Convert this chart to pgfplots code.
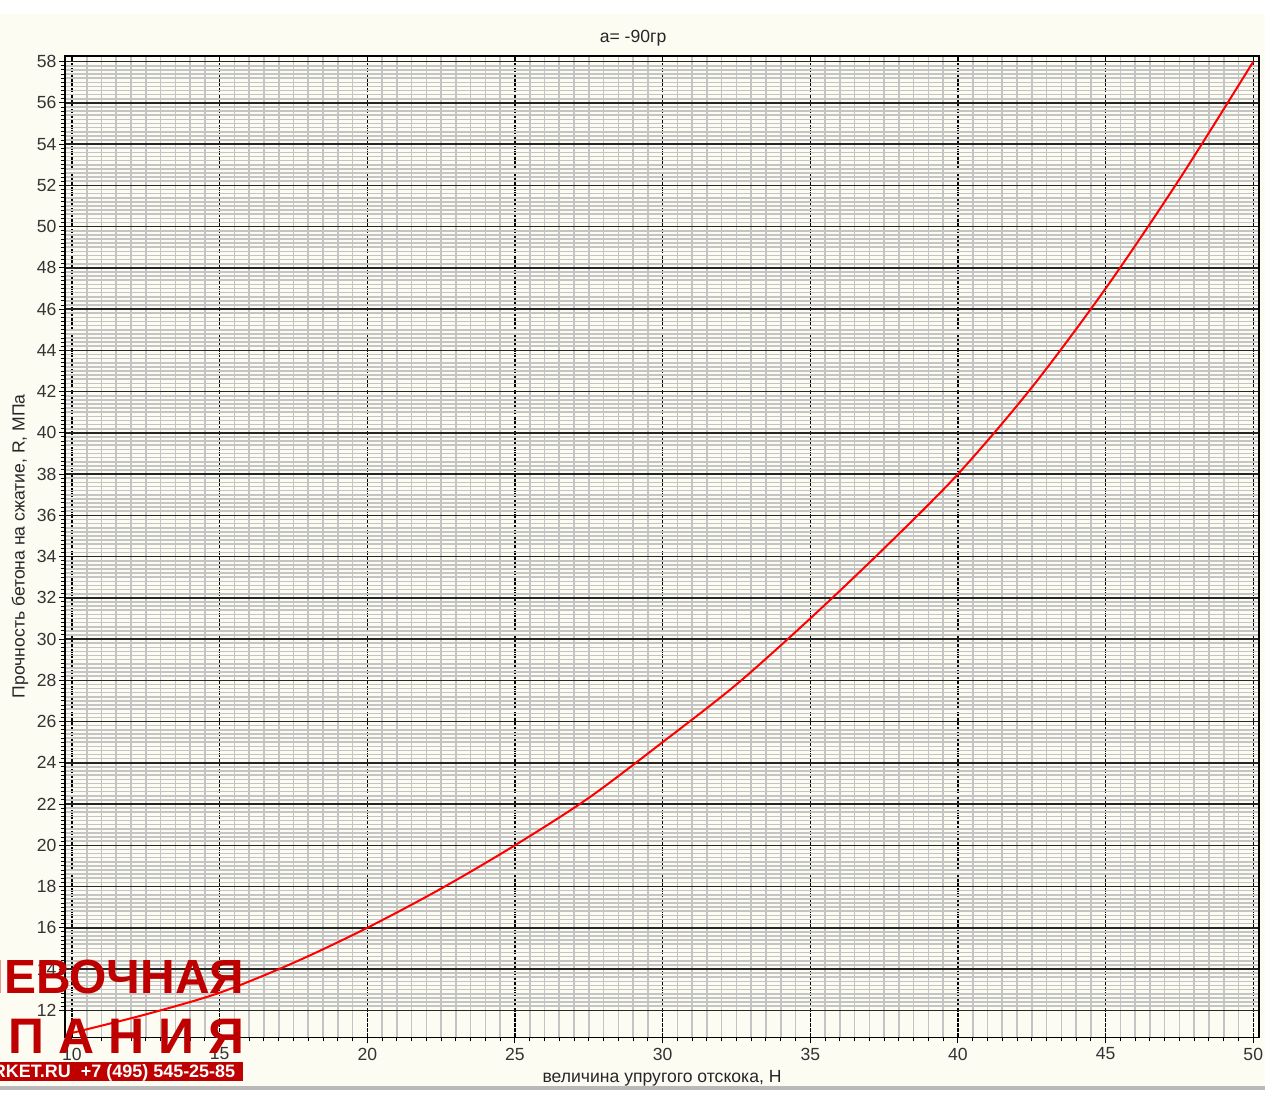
\documentclass[border=0pt]{standalone}
\usepackage{fontspec}
\setmainfont{Liberation Sans}
\usepackage{pgfplots}
\pgfplotsset{compat=1.18}
\definecolor{cream}{RGB}{253,252,243}
\definecolor{wmred}{RGB}{190,0,0}
\definecolor{minorgray}{RGB}{196,196,196}
\begin{document}
\begin{tikzpicture}
\fill[cream] (-32.5pt,-26.5pt) rectangle (601pt,519.5pt);
\fill[white] (-32.5pt,512.5pt) rectangle (601pt,519.5pt);
\fill[gray!55] (-32.5pt,-26.5pt) rectangle (601pt,-24.5pt);
\begin{axis}[at={(0pt,0pt)}, anchor=south west, scale only axis,
  width=598pt, height=491.5pt,
  xmin=9.76, xmax=50.2, ymin=10.68, ymax=58.28,
  xtick={10,15,...,50}, ytick={12,14,...,58},
  minor x tick num=9, minor y tick num=9,
  grid=both,
  major x grid style={black, line width=0.6pt, dash pattern=on 2pt off 0.6pt},
  major y grid style={black!85, line width=0.75pt},
  minor grid style={minorgray, line width=0.8pt},
  tick pos=left, tick align=outside,
  major tick length=3pt, minor tick length=2pt,
  tick style={black, line width=0.5pt},
  axis background/.style={fill=cream},
  axis line style={black, line width=0.7pt},
  /pgf/number format/assume math mode=true,
  ticklabel style={font=\fontsize{8.8}{10}\selectfont, text=black!80},
  yticklabel style={inner sep=1pt},
  xticklabel style={inner sep=2pt},
]
\addplot[color={rgb,255:red,255;green,0;blue,0}, line width=1pt, smooth] coordinates {
(10,10.9)(12.5,11.8)(15,12.85)(17.5,14.3)(20,16.0)(22.5,17.9)(25,20.0)(27.5,22.3)
(30,25.0)(32.5,27.8)(35,31.0)(37.5,34.4)(40,38.0)(42.5,42.2)(45,47.0)(47.5,52.3)(50,58.0)};
\end{axis}
\node[font=\fontsize{8.8}{10}\selectfont, text=black!85] at (284.5pt,500.5pt) {a= -90гр};
\node[rotate=90, font=\fontsize{8.8}{10}\selectfont, text=black!85] at (-22.5pt,246pt) {Прочность бетона на сжатие, R, МПа};
\node[font=\fontsize{8.8}{10}\selectfont, text=black!85] at (299pt,-20.5pt) {величина упругого отскока, Н};
\begin{scope}
\clip (-32.5pt,-26.5pt) rectangle (601pt,519.5pt);
\node[anchor=base east, inner sep=0pt, text=wmred, font=\fontsize{24}{24}\selectfont\bfseries] at (90pt,22pt) {НЕВОЧНАЯ};
\node[anchor=base east, inner sep=0pt, text=wmred, font=\fontsize{25}{25}\selectfont\bfseries] at (90pt,-8pt) {М\hspace{0.28em}П\hspace{0.28em}А\hspace{0.28em}Н\hspace{0.28em}И\hspace{0.28em}Я};
\fill[wmred] (-32.5pt,-22pt) rectangle (89pt,-12.5pt);
\node[anchor=base east, inner sep=0pt, text=white, font=\fontsize{9}{9}\selectfont\bfseries] at (85.5pt,-20pt) {MARKET.RU\ \ +7 (495) 545-25-85};
\end{scope}
\end{tikzpicture}
\end{document}
